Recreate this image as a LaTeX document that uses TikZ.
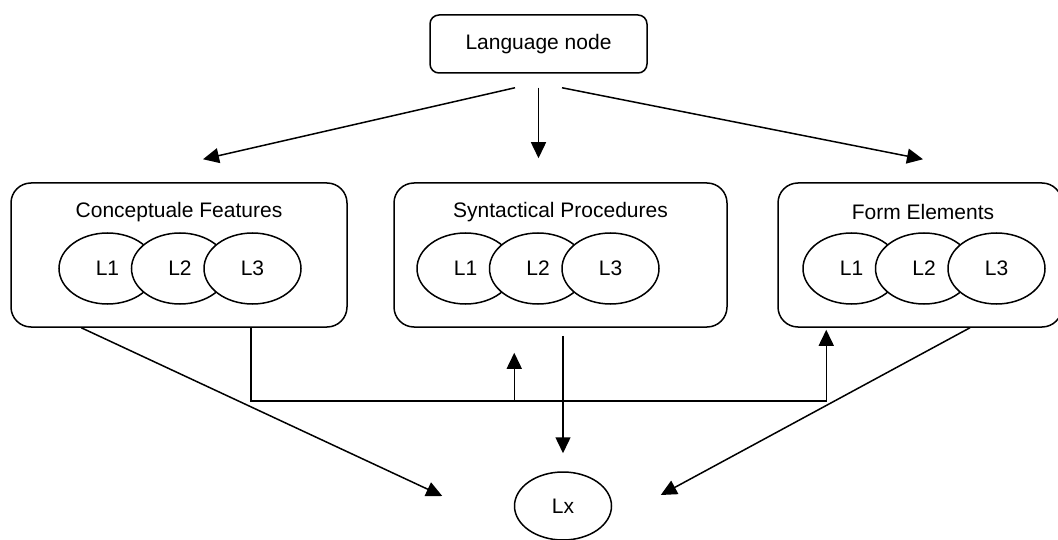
\documentclass[tikz,border=0pt]{standalone}
\usepackage{fontspec}
\setmainfont{Liberation Sans}
\usetikzlibrary{arrows.meta,shapes.geometric,positioning,calc}

\begin{document}
\begin{tikzpicture}[
        x=1pt, y=1pt,
        every node/.style={font=\fontsize{21}{25}\selectfont, line width=1.5pt},
        topn/.style={draw, rounded corners=9pt, minimum width=217pt, minimum height=58pt},
        groupn/.style={draw, rounded corners=20pt, minimum height=144pt},
        elln/.style={draw, ellipse, fill=white, minimum width=97pt, minimum height=71pt, inner sep=0pt},
        link/.style={draw, line width=1.5pt, -{Triangle[length=16pt,width=15pt]}},
    ]
    \useasboundingbox (0,0) rectangle (1058,539);

    \node[topn](lang) at (538.5,495) {Language node};

    \node[groupn, minimum width=336pt](cf) at (179,284) {};
    \node[groupn, minimum width=333pt](sp) at (560.5,284) {};
    \node[groupn, minimum width=284pt](fe) at (920,284) {};
    \node(cft) at ([yshift=-30pt]cf.north) {Conceptuale Features};
    \node(spt) at ([yshift=-30pt]sp.north) {Syntactical Procedures};
    \node(fet) at ([xshift=3pt,yshift=-30pt]fe.north) {Form Elements};

    \foreach \g/\x in {cf/107.5, sp/465.5, fe/851.5} {
        \node[elln](\g1) at (\x,270.5) {L1};
        \node[elln, right=-26pt of \g1](\g2) {L2};
        \node[elln, right=-26pt of \g2](\g3) {L3};
    }

    \node[elln, minimum height=68pt](lx) at (563,33) {Lx};

    % from the language node
    \draw[link] ([xshift=-23.5pt,yshift=-14pt]lang.south) -- ([xshift=24pt,yshift=23pt]cf.north);
    \draw[link] ([yshift=-14pt]lang.south) -- ($(lang.south |- sp.north)+(0,24)$);
    \draw[link] ([xshift=23.5pt,yshift=-14pt]lang.south) -- ([xshift=3pt,yshift=23pt]fe.north);

    % into Lx
    \draw[link] ([xshift=71pt]cf.south west) -- ([xshift=-71.5pt,yshift=10pt]lx.west);
    \draw[link] ([xshift=50pt]fe.south) -- ([xshift=48.5pt,yshift=11pt]lx.east);
    \draw[link] ($(lx.north |- sp.south)+(0,-8)$) -- ([yshift=18pt]lx.north);

    % lower bus
    \coordinate (busr) at ($(fe.south west)+(49,-73)$);
    \coordinate (busm) at ($(sp.south west |- busr)+(121,0)$);
    \draw[link] ([xshift=72pt]cf.south) |- (busr) -- ($(fe.south west)+(49,-2)$);
    \draw[link] (busm) -- ++(0,48);
\end{tikzpicture}
\end{document}
